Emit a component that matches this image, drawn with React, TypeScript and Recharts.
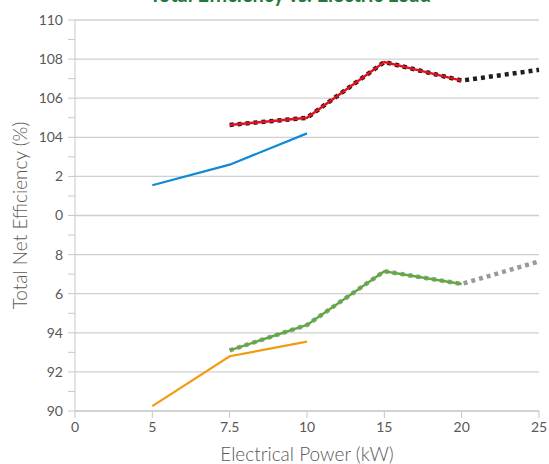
import React from 'react';
import { LineChart, Line, XAxis, YAxis, CartesianGrid } from 'recharts';

const categories = ['0', '5', '7.5', '10', '15', '20', '25'];
const bluePrev = [null, 101.55, 102.6, 104.2, null, null, null];
const redSolid = [null, null, 104.63, 105.0, 107.85, 106.9, null];
const blackDotted = [null, null, 104.63, 105.0, 107.85, 106.9, 107.45];
const orangePrev = [null, 90.25, 92.8, 93.55, null, null, null];
const greenSolid = [null, null, 93.1, 94.4, 97.15, 96.5, null];
const grayDotted = [null, null, 93.1, 94.4, 97.15, 96.5, 97.65];

const yTicks = [90, 91, 92, 93, 94, 95, 96, 97, 98, 99, 100, 101, 102, 103, 104, 105, 106, 107, 108, 109, 110];
const yGrid = [90, 92, 94, 96, 98, 100, 102, 104, 106, 108, 110];
const yTickLabels: Record<number, string> = {
  110: '110', 108: '108', 106: '106', 104: '104', 102: '2', 100: '0',
  98: '8', 96: '6', 94: '94', 92: '92', 90: '90',
};

const data = categories.map((x, i) => ({
  x,
  blue: bluePrev[i],
  red: redSolid[i],
  black: blackDotted[i],
  orange: orangePrev[i],
  green: greenSolid[i],
  gray: grayDotted[i],
}));

const font = 'Lato, "Open Sans", sans-serif';
const axisColor = '#c8c8c8';
const textColor = '#595959';

export default function App() {
  return (
    <div style={{ position: 'absolute', left: 0, top: 0, width: 549, height: 464, background: '#fff', overflow: 'hidden', fontFamily: font }}>
      <div
        style={{
          position: 'absolute',
          left: 0,
          width: 580,
          top: -18,
          textAlign: 'center',
          color: '#1f7a3a',
          fontWeight: 700,
          fontSize: 20,
        }}
      >
        Total Efficiency vs. Electric Load
      </div>
      <LineChart width={549} height={464} data={data} margin={{ top: 20, right: 10, bottom: 0, left: 0 }}>
        <CartesianGrid horizontal vertical={false} horizontalValues={yGrid} stroke="#d0d0d0" strokeWidth={1.3} />
        <XAxis
          dataKey="x"
          height={53}
          stroke={axisColor}
          tickSize={7}
          tickMargin={4}
          tick={{ fill: textColor, fontSize: 14, fontFamily: font }}
          interval={0}
          label={{ value: 'Electrical Power (kW)', position: 'insideBottom', offset: 3, fill: textColor, fontSize: 19, fontWeight: 300, fontFamily: font }}
        />
        <YAxis
          type="number"
          domain={[90, 110]}
          ticks={yTicks}
          interval={0}
          width={75}
          stroke={axisColor}
          tickSize={7}
          tickMargin={5}
          tickFormatter={(v: number) => yTickLabels[v] ?? ''}
          tick={{ fill: textColor, fontSize: 14, fontFamily: font }}
          label={{ value: 'Total Net Efficiency (%)', angle: -90, position: 'insideLeft', offset: 20, fill: textColor, fontSize: 19, fontWeight: 300, fontFamily: font, style: { textAnchor: 'middle' } }}
        />
        <Line dataKey="blue" stroke="#1189d4" strokeWidth={2.2} dot={false} isAnimationActive={false} />
        <Line dataKey="orange" stroke="#f39a0e" strokeWidth={2.2} dot={false} isAnimationActive={false} />
        <Line dataKey="black" stroke="#1e1e1e" strokeWidth={4.5} strokeDasharray="4 4" dot={false} isAnimationActive={false} />
        <Line dataKey="red" stroke="#e3101e" strokeWidth={2.5} dot={false} isAnimationActive={false} />
        <Line dataKey="gray" stroke="#9a9a9a" strokeWidth={4.5} strokeDasharray="4 4" dot={false} isAnimationActive={false} />
        <Line dataKey="green" stroke="#5aad38" strokeWidth={2.5} dot={false} isAnimationActive={false} />
      </LineChart>
    </div>
  );
}
